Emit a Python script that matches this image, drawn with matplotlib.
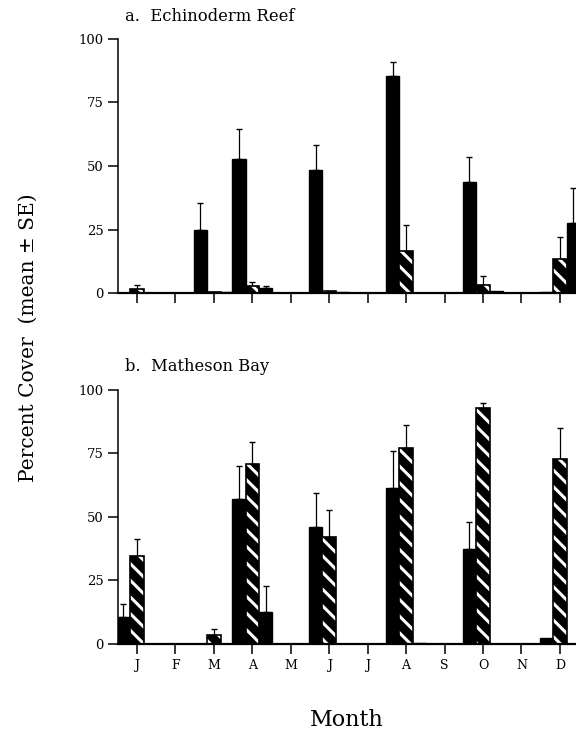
import numpy as np
import matplotlib
matplotlib.use("Agg")
import matplotlib.pyplot as plt

months = ["J", "F", "M", "A", "M", "J", "J", "A", "S", "O", "N", "D"]

# a. Echinoderm Reef
reef_black = [0, 0, 24.7, 52.6, 0, 48.4, 0, 85.4, 0, 43.6, 0, 0.3]
reef_black_se = [0, 0, 10.9, 11.8, 0, 9.8, 0, 5.6, 0, 10.0, 0, 0]
reef_hatch = [1.6, 0, 0.5, 3.0, 0, 0.8, 0, 16.6, 0, 3.4, 0, 13.5]
reef_hatch_se = [1.5, 0, 0, 1.3, 0, 0, 0, 10.3, 0, 3.2, 0, 8.4]
reef_dark = [0, 0, 0.5, 2.1, 0, 0.3, 0, 0, 0, 0.8, 0, 27.6]
reef_dark_se = [0, 0, 0, 0.6, 0, 0, 0, 0, 0, 0, 0, 13.9]

# b. Matheson Bay
bay_black = [10.5, 0, 0, 57.0, 0, 45.9, 0, 61.3, 0, 37.4, 0, 2.5]
bay_black_se = [5.1, 0, 0, 13.2, 0, 13.4, 0, 14.8, 0, 10.8, 0, 0]
bay_hatch = [34.7, 0, 3.5, 70.7, 0, 42.3, 0, 77.3, 0, 93.0, 0, 72.8]
bay_hatch_se = [6.5, 0, 2.5, 8.8, 0, 10.5, 0, 8.9, 0, 1.8, 0, 12.3]
bay_dark = [0, 0, 0, 12.5, 0, 0, 0, 0.4, 0, 0, 0, 0]
bay_dark_se = [0, 0, 0, 10.5, 0, 0, 0, 0, 0, 0, 0, 0]

plt.rcParams["font.family"] = ["DejaVu Serif"]
plt.rcParams["hatch.linewidth"] = 2.2

fig = plt.figure(figsize=(5.76, 7.33), dpi=100)
ax_a = fig.add_axes([0.205, 0.600, 0.795, 0.347])
ax_b = fig.add_axes([0.205, 0.1214, 0.795, 0.3466])

x = np.arange(len(months))
w = 0.35


def errs(ax, xs, vals, se):
    vals = np.array(vals, dtype=float)
    se = np.array(se, dtype=float)
    m = se > 0
    ax.errorbar(xs[m], vals[m], yerr=[np.zeros(m.sum()), se[m]], fmt="none",
                ecolor="black", elinewidth=0.9, capsize=2.5, capthick=1.0, zorder=1)


def panel(ax, black, black_se, hatch, hatch_se, dark, dark_se, labels):
    errs(ax, x - w, black, black_se)
    errs(ax, x, hatch, hatch_se)
    errs(ax, x + w, dark, dark_se)
    ax.bar(x - w, black, w, color="black", edgecolor="black", linewidth=1, zorder=2)
    ax.bar(x, hatch, w, color="black", edgecolor="white", hatch="\\\\", linewidth=0, zorder=2)
    ax.bar(x, hatch, w, color="none", edgecolor="black", linewidth=1.2, zorder=3)
    ax.bar(x + w, dark, w, color="black", edgecolor="black", linewidth=1, zorder=2)

    ax.set_xlim(-0.49, 11.42)
    ax.set_ylim(0, 100)
    ax.set_yticks([0, 25, 50, 75, 100])
    ax.set_xticks(x)
    if labels:
        ax.set_xticklabels(months, fontsize=9)
    else:
        ax.set_xticklabels([])
    ax.tick_params(axis="both", direction="out", length=7, width=1.1, labelsize=9.5)
    ax.tick_params(axis="x", pad=4, labelsize=9)
    ax.spines["top"].set_visible(False)
    ax.spines["right"].set_visible(False)
    ax.spines["left"].set_linewidth(1.1)
    ax.spines["bottom"].set_linewidth(1.6)


panel(ax_a, reef_black, reef_black_se, reef_hatch, reef_hatch_se, reef_dark, reef_dark_se, False)
panel(ax_b, bay_black, bay_black_se, bay_hatch, bay_hatch_se, bay_dark, bay_dark_se, True)

fig.text(0.217, 0.977, "a.  Echinoderm Reef", fontsize=11.8, va="center", ha="left")
fig.text(0.217, 0.500, "b.  Matheson Bay", fontsize=11.8, va="center", ha="left")
fig.text(0.049, 0.539, "Percent Cover  (mean \u00b1 SE)", fontsize=14.5, rotation=90,
         va="center", ha="center")
fig.text(0.602, 0.018, "Month", fontsize=16, va="center", ha="center")

fig.savefig("out.png", dpi=100)
